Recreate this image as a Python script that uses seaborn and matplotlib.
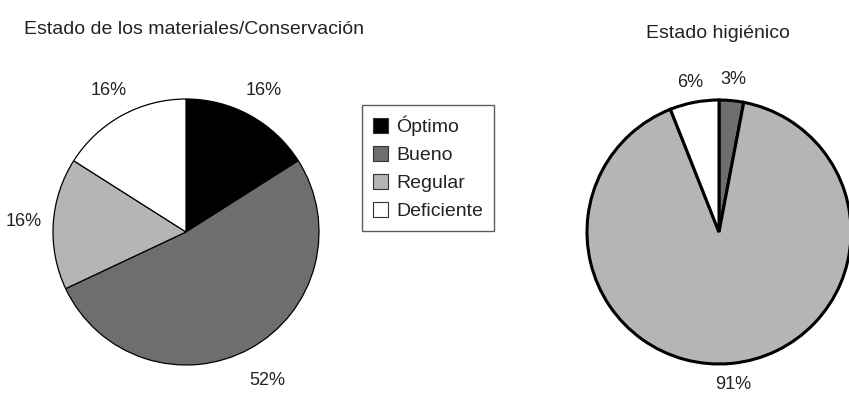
import numpy as np
import matplotlib
matplotlib.use("Agg")
import matplotlib.pyplot as plt
import seaborn as sns
from matplotlib.patches import Patch

categories = ["Óptimo", "Bueno", "Regular", "Deficiente"]
left_values = [16, 52, 16, 16]
right_values = [0, 3, 91, 6]
left_title = "Estado de los materiales/Conservación"
right_title = "Estado higiénico"
colors = ["#000000", "#6e6e6e", "#b5b5b5", "#ffffff"]

sns.set_theme(style="white")
plt.rcParams["font.family"] = ["Liberation Sans Narrow", "Liberation Sans", "DejaVu Sans"]

W, H = 849, 396
fig = plt.figure(figsize=(W / 100, H / 100), dpi=100)
fig.patch.set_facecolor("white")


def make_ax(cx, cy, r):
    ax = fig.add_axes([(cx - r) / W, 1 - (cy + r) / H, 2 * r / W, 2 * r / H])
    ax.set_axis_off()
    return ax


def draw_pie(ax, values, lw, dists):
    vals = [v for v in values if v > 0]
    cols = [c for v, c in zip(values, colors) if v > 0]
    wedges, _ = ax.pie(vals, colors=cols, startangle=90, counterclock=False,
                       radius=1.0, wedgeprops=dict(edgecolor="black", linewidth=lw))
    ax.set_xlim(-1, 1)
    ax.set_ylim(-1, 1)
    total = sum(vals)
    for w, v, d in zip(wedges, vals, dists):
        ang = np.deg2rad((w.theta1 + w.theta2) / 2)
        ax.text(d * np.cos(ang), d * np.sin(ang), f"{v / total * 100:.0f}%",
                ha="center", va="center", fontsize=13, color="#222222", clip_on=False)
    return wedges


axl = make_ax(186, 232, 133)
wl = draw_pie(axl, left_values, 0.9, [1.21, 1.27, 1.22, 1.21])

axr = make_ax(719, 232, 132)
draw_pie(axr, right_values, 2.2, [1.16, 1.16, 1.15])

fig.text(24 / W, 1 - 30 / H, left_title, ha="left", va="center", fontsize=14, color="#222222")
fig.text(718 / W, 1 - 34 / H, right_title, ha="center", va="center", fontsize=14, color="#222222")

handles = [Patch(facecolor=c, edgecolor="#333333", linewidth=0.8) for c in colors]
leg = fig.legend(handles, categories, loc="upper left",
                 bbox_to_anchor=(362 / W, 1 - 105 / H), fontsize=14,
                 frameon=True, fancybox=False, edgecolor="#333333",
                 handlelength=0.8, handleheight=0.8, handletextpad=0.4,
                 labelspacing=0.5, borderpad=0.55, borderaxespad=0)
leg.get_frame().set_linewidth(1.0)
for t in leg.get_texts():
    t.set_color("#222222")

fig.savefig("out.png", dpi=100, facecolor="white")
